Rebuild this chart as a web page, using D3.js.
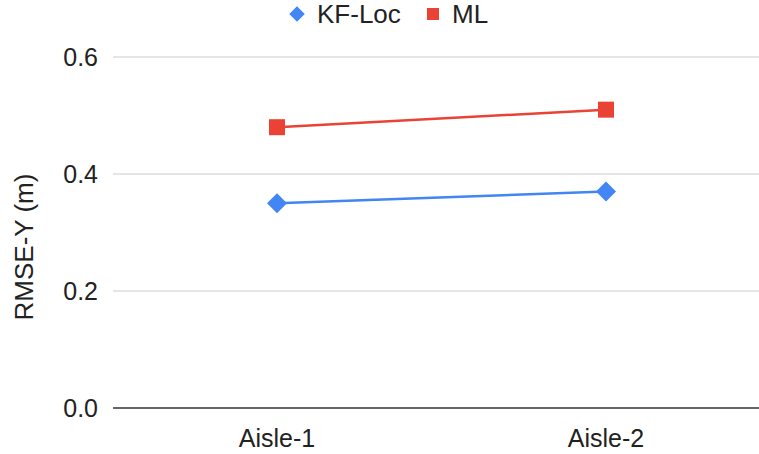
<!DOCTYPE html>
<html><head><meta charset="utf-8">
<script src="https://cdn.jsdelivr.net/npm/d3@7"></script>
<style>body{margin:0;background:#fff}text{font-family:"Liberation Sans",Arial,sans-serif;fill:#222}</style>
</head><body><svg id="c" width="759" height="454"></svg>
<script>
const categories = ["Aisle-1", "Aisle-2"];
const kfLoc = [0.35, 0.37];
const ml = [0.48, 0.51];
const yTicks = [0.0, 0.2, 0.4, 0.6];
const seriesNames = ["KF-Loc", "ML"];

(function () {
const svg = d3.select("#c");
const mLeft = 113, mRight = 770, mTop = 57, mBottom = 408;
const x = d3.scalePoint().domain(categories).range([mLeft - 0.5, mRight + 0.5]).padding(0.5);
const y = d3.scaleLinear().domain([0, 0.6]).range([mBottom, mTop]);

svg.append("g").selectAll("line").data(yTicks).join("line")
  .attr("x1", mLeft).attr("x2", 759).attr("y1", d => y(d)).attr("y2", d => y(d))
  .attr("stroke", d => d === 0 ? "#333" : "#ccc").attr("stroke-width", d => d === 0 ? 1.3 : 1);

svg.append("g").selectAll("text").data(yTicks).join("text")
  .attr("x", 98).attr("y", d => y(d)).attr("dy", "0.36em").attr("text-anchor", "end")
  .attr("font-size", 25).text(d => d.toFixed(1));

svg.append("g").selectAll("text").data(categories).join("text")
  .attr("x", d => x(d)).attr("y", 447).attr("text-anchor", "middle")
  .attr("font-size", 25).text(d => d);

svg.append("text").attr("transform", "translate(33,247) rotate(-90)")
  .attr("text-anchor", "middle").attr("font-size", 26).text("RMSE-Y (m)");

const line = d3.line().x((d, i) => x(categories[i])).y(d => y(d));
const blue = "#4285f4", red = "#ea4335";
svg.append("path").datum(kfLoc).attr("d", line).attr("fill", "none").attr("stroke", blue).attr("stroke-width", 2.5);
svg.append("path").datum(ml).attr("d", line).attr("fill", "none").attr("stroke", red).attr("stroke-width", 2.5);

const diamond = d3.symbol().type(d3.symbolSquare).size(200);
svg.append("g").selectAll("path").data(kfLoc).join("path")
  .attr("d", diamond).attr("fill", blue)
  .attr("transform", (d, i) => `translate(${x(categories[i])},${y(d)}) rotate(45)`);
svg.append("g").selectAll("rect").data(ml).join("rect")
  .attr("x", (d, i) => x(categories[i]) - 8).attr("y", d => y(d) - 8)
  .attr("width", 16).attr("height", 16).attr("fill", red);

const lg = svg.append("g");
lg.append("path").attr("d", d3.symbol().type(d3.symbolSquare).size(121)()).attr("fill", blue)
  .attr("transform", "translate(297,14) rotate(45)");
lg.append("text").attr("x", 317).attr("y", 23).attr("font-size", 26).text(seriesNames[0]);
lg.append("rect").attr("x", 427).attr("y", 8).attr("width", 12).attr("height", 12).attr("fill", red);
lg.append("text").attr("x", 452).attr("y", 23).attr("font-size", 26).text(seriesNames[1]);
})();
</script></body></html>
